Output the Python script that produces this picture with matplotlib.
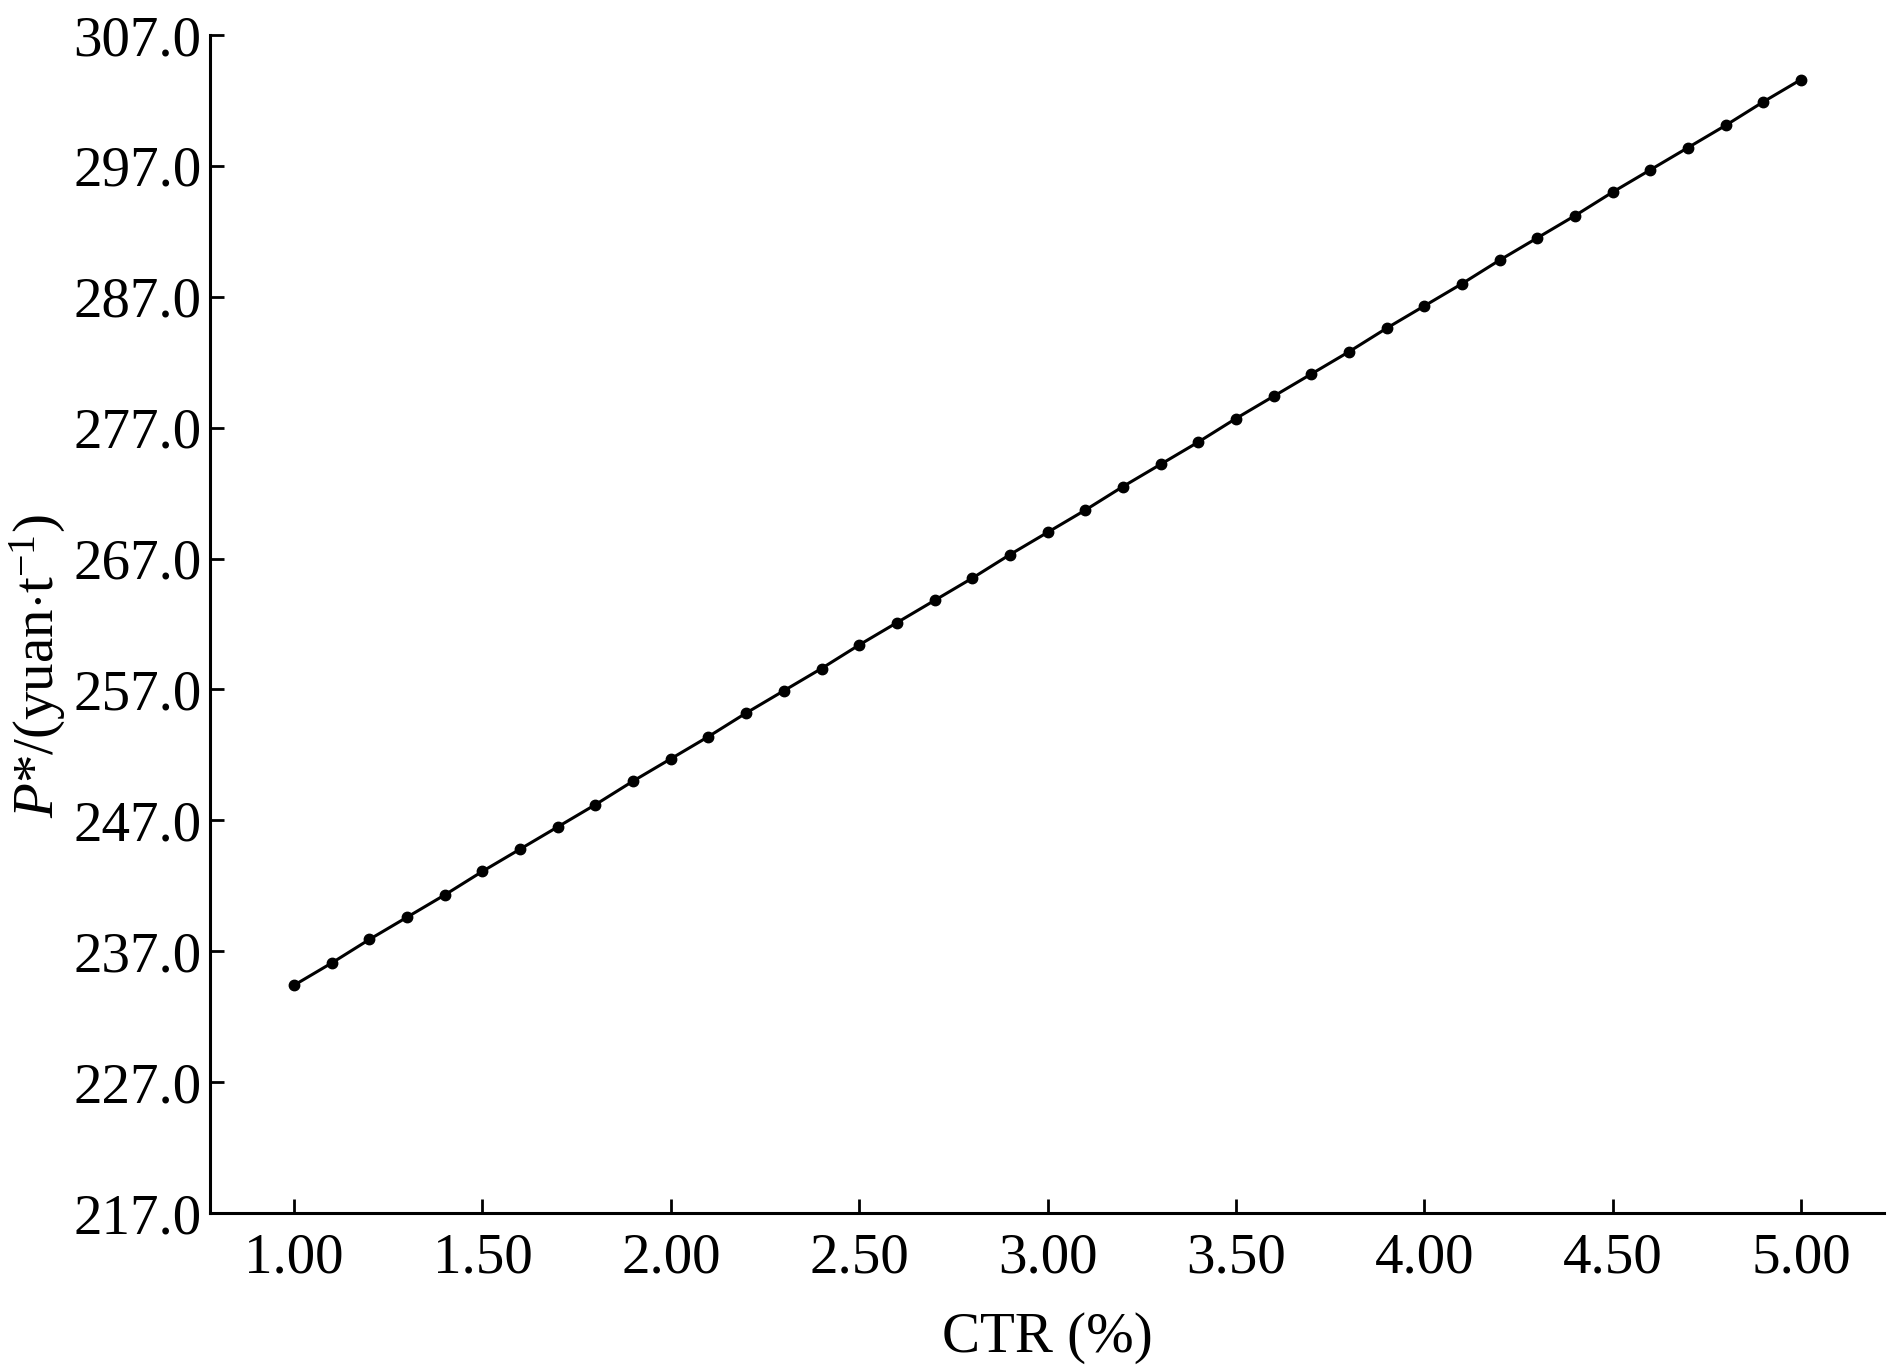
import matplotlib
matplotlib.use("Agg")
import matplotlib.pyplot as plt
from matplotlib.ticker import FormatStrFormatter

ctr = [1.0, 1.1, 1.2, 1.3, 1.4, 1.5, 1.6, 1.7, 1.8, 1.9,
       2.0, 2.1, 2.2, 2.3, 2.4, 2.5, 2.6, 2.7, 2.8, 2.9,
       3.0, 3.1, 3.2, 3.3, 3.4, 3.5, 3.6, 3.7, 3.8, 3.9,
       4.0, 4.1, 4.2, 4.3, 4.4, 4.5, 4.6, 4.7, 4.8, 4.9, 5.0]
price = [234.4, 236.1, 237.9, 239.6, 241.3, 243.1, 244.8, 246.5, 248.2, 250.0,
         251.7, 253.4, 255.2, 256.9, 258.6, 260.4, 262.1, 263.8, 265.5, 267.3,
         269.0, 270.7, 272.5, 274.2, 275.9, 277.7, 279.4, 281.1, 282.8, 284.6,
         286.3, 288.0, 289.8, 291.5, 293.2, 295.0, 296.7, 298.4, 300.1, 301.9, 303.6]
x_ticks = [1.0, 1.5, 2.0, 2.5, 3.0, 3.5, 4.0, 4.5, 5.0]
y_ticks = [217.0, 227.0, 237.0, 247.0, 257.0, 267.0, 277.0, 287.0, 297.0, 307.0]

plt.rcParams['font.family'] = ['Liberation Serif', 'DejaVu Serif']
plt.rcParams['mathtext.fontset'] = 'custom'
plt.rcParams['mathtext.rm'] = 'Liberation Serif'
plt.rcParams['mathtext.it'] = 'Liberation Serif:italic'

fig = plt.figure(figsize=(18.9, 13.7), dpi=100)
ax = fig.add_axes([210/1890, 1 - 1213/1370, (1884-210)/1890, (1213-35)/1370])

ax.plot(ctr, price, color='black', lw=2.2, marker='o', markersize=7.5, zorder=3)

ax.set_xlim(0.777, 5.22)
ax.set_ylim(217, 307)
ax.set_xticks(x_ticks)
ax.set_yticks(y_ticks)
ax.xaxis.set_major_formatter(FormatStrFormatter('%.2f'))
ax.yaxis.set_major_formatter(FormatStrFormatter('%.1f'))

for s in ['top', 'right']:
    ax.spines[s].set_visible(False)
for s in ['left', 'bottom']:
    ax.spines[s].set_linewidth(2.2)

ax.tick_params(direction='in', length=10, width=2.0, labelsize=41, pad=6)
ax.tick_params(axis='x', pad=14)

ax.set_xlabel('CTR (%)', fontsize=41, labelpad=20)
ax.set_ylabel(r'$P$*/(yuan$\cdot$t$^{-1}$)', fontsize=41)
ax.yaxis.set_label_coords(-0.085, 0.464)

fig.savefig('out.png', dpi=100, facecolor='white')
